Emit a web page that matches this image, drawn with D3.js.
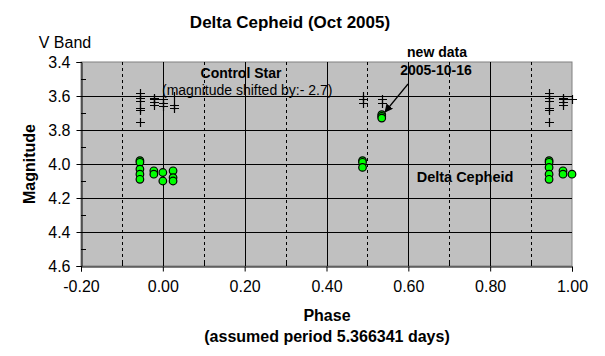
<!DOCTYPE html>
<html><head><meta charset="utf-8">
<script src="https://cdn.jsdelivr.net/npm/d3@7"></script>
<style>body{margin:0;background:#fff;}svg{display:block;font-family:"Liberation Sans",Arial,sans-serif;}</style>
</head><body>
<svg id="c" width="605" height="356"></svg>
<script>
// Delta Cepheid (green circles): phase, magnitude
const cephPhase = [-0.056,-0.056,-0.056,-0.056,-0.056, -0.022,-0.022, 0.000,0.000, 0.025,0.025,0.025,
                   0.488,0.488,0.488, 0.535,0.535,0.535,
                   0.944,0.944,0.944,0.944,0.944, 0.978,0.978, 1.000];
const cephMag   = [3.98,3.99,4.03,4.06,4.09, 4.04,4.06, 4.05,4.10, 4.04,4.08,4.10,
                   3.98,3.99,4.02, 3.71,3.72,3.73,
                   3.98,3.99,4.02,4.06,4.09, 4.04,4.06, 4.06];
// Control star (plus markers, shifted by -2.7)
const ctrlPhase = [-0.056,-0.056,-0.056,-0.056,-0.056,-0.056, -0.022,-0.022,-0.022,-0.022, 0.000,0.000,0.000, 0.027,0.027,0.027,
                   0.488,0.488,0.488, 0.535,0.535,
                   0.944,0.944,0.944,0.944,0.944,0.944, 0.978,0.978,0.978,0.978, 1.000];
const ctrlMag   = [3.585,3.61,3.63,3.67,3.68,3.75, 3.61,3.62,3.635,3.655, 3.62,3.64,3.66, 3.60,3.65,3.67,
                   3.60,3.62,3.64, 3.62,3.64,
                   3.585,3.61,3.63,3.67,3.68,3.75, 3.61,3.62,3.635,3.65, 3.62];
const xTicks = [-0.2,0,0.2,0.4,0.6,0.8,1.0];
const yTicks = [3.4,3.6,3.8,4.0,4.2,4.4,4.6];
const xMinor = [-0.1,0.1,0.3,0.5,0.7,0.9];
const yMinor = [3.5,3.7,3.9,4.1,4.3,4.5];

const svg = d3.select("#c");
const L=81, R=572, T=62, B=266;
const x = d3.scaleLinear().domain([-0.2,1.0]).range([L,R]);
const y = d3.scaleLinear().domain([3.4,4.6]).range([T,B]);

svg.append("rect").attr("x",L).attr("y",T).attr("width",R-L).attr("height",B-T)
  .attr("fill","#c0c0c0").attr("stroke","#808080").attr("stroke-width",1);

// solid gridlines
svg.append("g").selectAll("line").data(yTicks.slice(1,-1)).join("line")
  .attr("x1",L).attr("x2",R).attr("y1",d=>Math.round(y(d))+0.5).attr("y2",d=>Math.round(y(d))+0.5)
  .attr("stroke","#000").attr("stroke-width",1);
svg.append("g").selectAll("line").data(xTicks.slice(1,-1)).join("line")
  .attr("y1",T).attr("y2",B).attr("x1",d=>Math.round(x(d))+0.5).attr("x2",d=>Math.round(x(d))+0.5)
  .attr("stroke","#000").attr("stroke-width",1);
// dashed gridlines
svg.append("g").selectAll("line").data(xMinor).join("line")
  .attr("y1",T).attr("y2",B).attr("x1",d=>Math.round(x(d))+0.5).attr("x2",d=>Math.round(x(d))+0.5)
  .attr("stroke","#000").attr("stroke-width",1).attr("stroke-dasharray","3,3");

const fmt = f => d => d3.format(f)(d).replace("\u2212","-");
// axes
const yAxis = svg.append("g").attr("transform",`translate(${L+0.5},0)`)
  .call(d3.axisLeft(y).tickValues(yTicks).tickFormat(fmt(".1f")).tickSize(5).tickPadding(6));
const xAxis = svg.append("g").attr("transform",`translate(0,${B+0.5})`)
  .call(d3.axisBottom(x).tickValues(xTicks).tickFormat(fmt(".2f")).tickSize(5).tickPadding(9));
[yAxis,xAxis].forEach(g=>{
  g.select(".domain").attr("stroke","#000");
  g.selectAll(".tick line").attr("stroke","#000");
  g.selectAll("text").attr("font-size",16).attr("fill","#000").attr("font-family","Liberation Sans, Arial, sans-serif");
});
// minor ticks (inward)
svg.append("g").selectAll("line").data(yMinor).join("line")
  .attr("x1",L).attr("x2",L+5).attr("y1",d=>Math.round(y(d))+0.5).attr("y2",d=>Math.round(y(d))+0.5).attr("stroke","#000");
svg.append("g").selectAll("line").data(xMinor).join("line")
  .attr("y1",B).attr("y2",B-5).attr("x1",d=>Math.round(x(d))+0.5).attr("x2",d=>Math.round(x(d))+0.5).attr("stroke","#000");

// control star plus markers
svg.append("g").selectAll("path").data(ctrlPhase.map((p,i)=>[p,ctrlMag[i]])).join("path")
  .attr("d",d=>{const cx=Math.round(x(d[0]))+0.5, cy=Math.round(y(d[1]))+0.5;
    return `M${cx-4.5},${cy}H${cx+4.5}M${cx},${cy-4.5}V${cy+4.5}`;})
  .attr("stroke","#000").attr("stroke-width",1.2).attr("fill","none");

// delta cephei circles
svg.append("g").selectAll("circle").data(cephPhase.map((p,i)=>[p,cephMag[i]])).join("circle")
  .attr("cx",d=>x(d[0])).attr("cy",d=>y(d[1])).attr("r",3.8)
  .attr("fill","#00ff00").attr("stroke","#000").attr("stroke-width",1.2);

// annotations
const txt=(t,xx,yy,sz,bold,anchor="middle")=>
  svg.append("text").attr("x",xx).attr("y",yy).attr("font-size",sz)
    .attr("font-weight",bold?"bold":"normal").attr("text-anchor",anchor).attr("fill","#000").text(t);
txt("Delta Cepheid (Oct 2005)",290,28,17,true);
txt("V Band",65,48,16,false);
svg.append("text").attr("transform","translate(35,164) rotate(-90)").attr("text-anchor","middle")
  .attr("font-size",16).attr("font-weight","bold").text("Magnitude");
txt("Phase",327,321,16,true);
txt("(assumed period 5.366341 days)",327,342,16,true);
txt("Control Star",241,78,14,true);
txt("(magnitude shifted by:- 2.7)",162,95,14,false,"start");
txt("Delta Cepheid",465,182,14.5,true);
txt("new data",437,57,14,true);
txt("2005-10-16",436,75,14,true);

// arrow
svg.append("defs").append("marker").attr("id","ah").attr("viewBox","0 0 10 10").attr("refX",9).attr("refY",5)
  .attr("markerWidth",7).attr("markerHeight",7).attr("orient","auto")
  .append("path").attr("d","M0,0L10,5L0,10Z").attr("fill","#000");
svg.append("line").attr("x1",408).attr("y1",84).attr("x2",385).attr("y2",112)
  .attr("stroke","#000").attr("stroke-width",1.2).attr("marker-end","url(#ah)");
</script>
</body></html>
